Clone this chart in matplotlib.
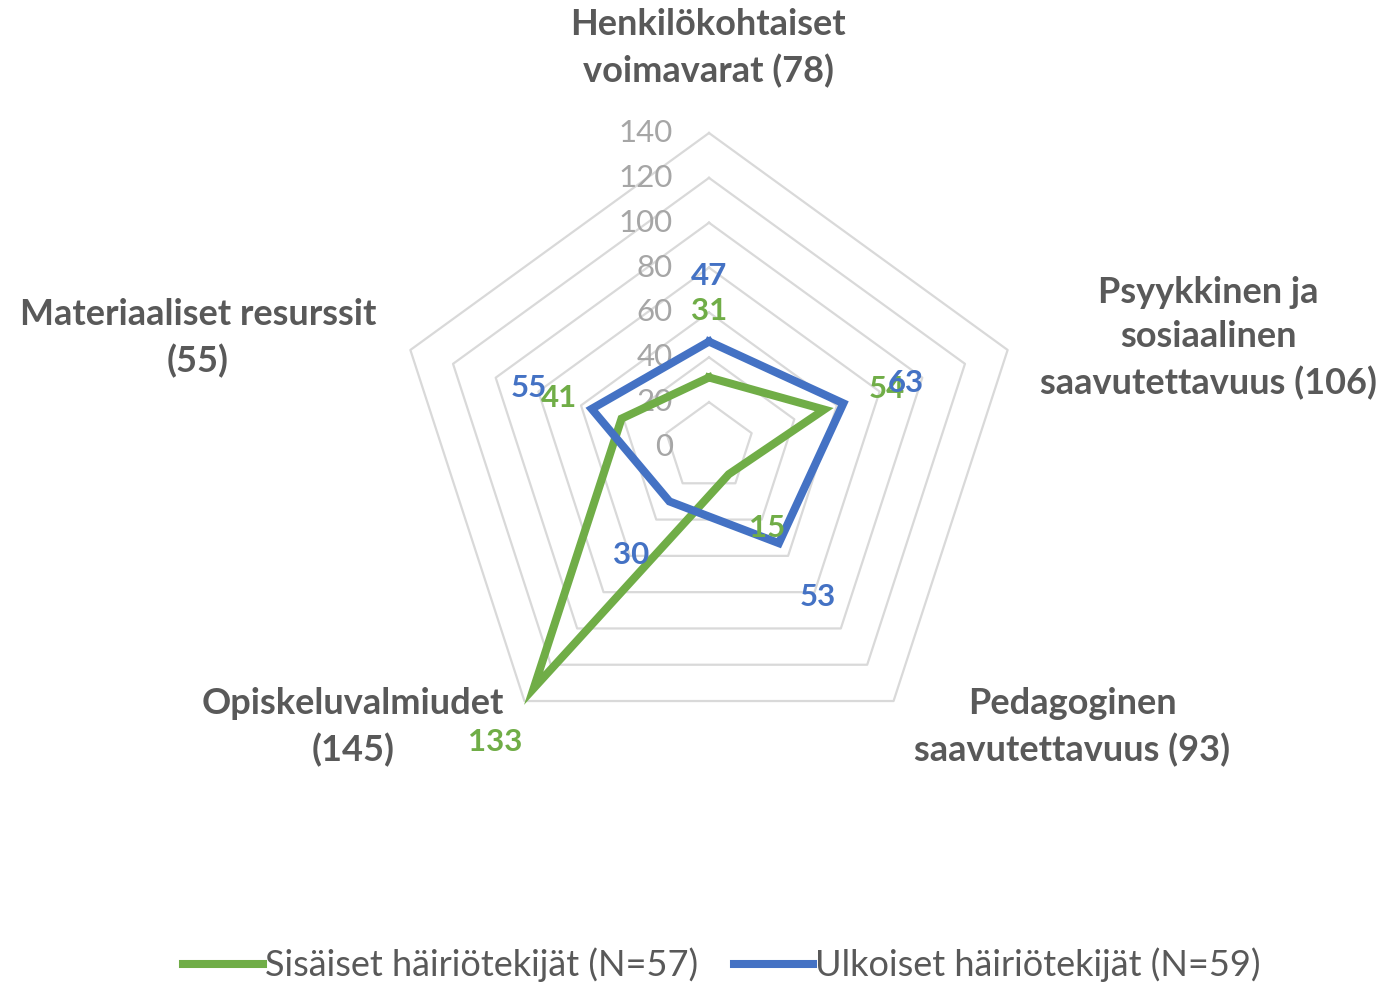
import numpy as np
import matplotlib
matplotlib.use('Agg')
import matplotlib.pyplot as plt
from matplotlib.lines import Line2D

# data
categories = ['Henkilökohtaiset\nvoimavarat (78)',
              'Psyykkinen ja\nsosiaalinen\nsaavutettavuus (106)',
              'Pedagoginen\nsaavutettavuus (93)',
              'Opiskeluvalmiudet\n(145)',
              'Materiaaliset resurssit\n(55)']
sisaiset = [31, 54, 15, 133, 41]
ulkoiset = [47, 63, 53, 30, 55]
ticks = [0, 20, 40, 60, 80, 100, 120, 140]
series_names = ['Sisäiset häiriötekijät (N=57)', 'Ulkoiset häiriötekijät (N=59)']

green = '#70AD47'
blue = '#4472C4'
gridc = '#D9D9D9'
textc = '#595959'
tickc = '#A6A6A6'

plt.rcParams['font.family'] = ['Lato', 'DejaVu Sans']

fig = plt.figure(figsize=(13.91, 9.83), dpi=100)
ax = fig.add_axes([0.28397, 0.22584, 0.45147, 0.63886], projection='polar')
ax.set_theta_offset(np.pi / 2)
ax.set_theta_direction(-1)
ax.set_ylim(0, 140)
ax.set_axis_off()

theta = np.linspace(0, 2 * np.pi, len(categories), endpoint=False)
closed = np.append(theta, theta[0])

# pentagon grid rings
for t in ticks[1:]:
    ax.plot(closed, [t] * len(closed), color=gridc, lw=1.6, zorder=1, clip_on=False)

# tick labels along the top axis
for t in ticks:
    ax.annotate(str(t), xy=(0, t), xytext=(-26, 0), textcoords='offset points',
                ha='right', va='center', fontsize=22.5, color=tickc, zorder=2)

# series
for vals, col in [(sisaiset, green), (ulkoiset, blue)]:
    ax.plot(closed, vals + [vals[0]], color=col, lw=5.8, solid_joinstyle='miter',
            zorder=3, clip_on=False)
    for th, v in zip(theta, vals):
        ax.annotate(str(v), xy=(th, v),
                    xytext=(47.5 * np.sin(th), 47.5 * np.cos(th)),
                    textcoords='offset points', ha='center', va='center',
                    fontsize=22.5, fontweight='bold', color=col, zorder=4)

# category labels
cat_pos = [(0.509, 0.951), (0.8685, 0.6562), (0.7707, 0.2604),
           (0.2538, 0.2604), (0.1423, 0.6562)]
for lab, (x, y) in zip(categories, cat_pos):
    fig.text(x, y, lab, ha='center', va='center', multialignment='center',
             fontsize=26, fontweight='bold', color=textc, linespacing=1.43)

handles = [Line2D([0], [0], color=green, lw=5.8),
           Line2D([0], [0], color=blue, lw=5.8)]
fig.legend(handles, series_names, loc='center', bbox_to_anchor=(0.519, 0.0183),
           ncol=2, frameon=False, fontsize=26, labelcolor=textc,
           handlelength=2.2, handletextpad=0.05, columnspacing=1.0)

fig.savefig('out.png', dpi=100)
